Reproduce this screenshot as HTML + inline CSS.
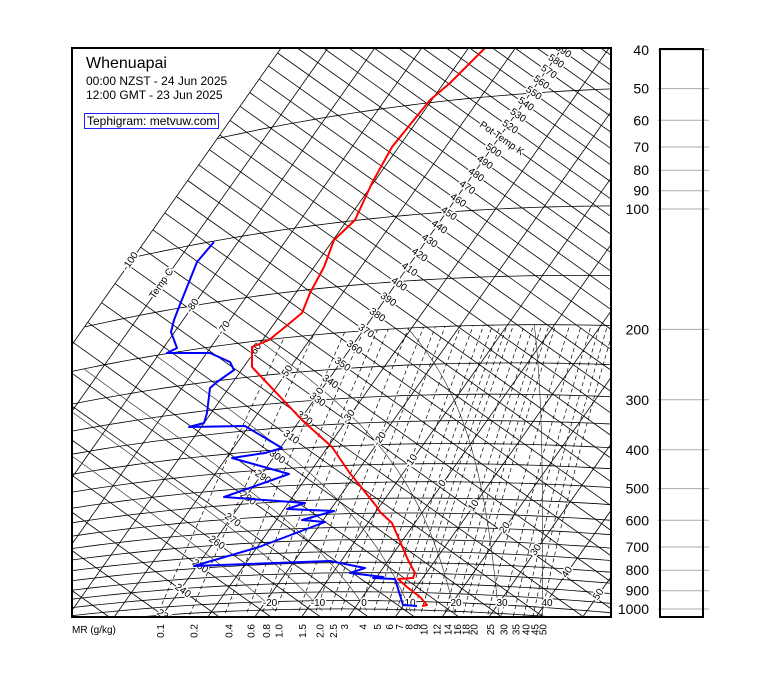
<!DOCTYPE html>
<html><head><meta charset="utf-8"><style>
html,body{margin:0;padding:0;background:#fff;width:760px;height:690px;overflow:hidden;}
svg{display:block;font-family:"Liberation Sans",sans-serif;overflow:hidden;}
.lb{font-size:10px;fill:#000;stroke:#fff;stroke-width:3px;paint-order:stroke;}
</style></head><body>
<svg id="s" width="760" height="690" viewBox="0 0 760 690" xmlns="http://www.w3.org/2000/svg">
<defs><clipPath id="cp"><rect x="72" y="48" width="539" height="569"/></clipPath></defs>
<g id="grid" clip-path="url(#cp)"></g>
<g id="labs" clip-path="url(#cp)"></g>
<g id="data" clip-path="url(#cp)" fill="none" stroke-width="2" stroke-linejoin="round">
<polyline stroke="#ff0000" points="485,48 450,83 430,100 392,147 372,183 355,220 334,240 324,267 310,293 302,313 285,327 269,340 252,347 252,367 302,420 332,447 349,472 353,477 377,507 380,512 392,523 408,560 415,573 413,578 398,579 407,587 420,597 427,605 422,606"/>
<polyline stroke="#0000ff" points="214,242 197,262 179,307 174,320 171,332 177,348 167,353 210,353 230,362 234,370 217,382 210,388 207,413 204,423 189,427 245,426 282,448 265,453 232,458 289,474 224,497 305,503 287,509 334,511 302,520 325,522 259,547 194,566 330,561 365,568 350,573 383,577 373,578 395,579 403,605 417,606"/>
</g>
<rect x="72" y="48" width="539" height="569" fill="none" stroke="#000" stroke-width="2"/>
<text x="86" y="68" font-size="16">Whenuapai</text>
<text x="86" y="85" font-size="12">00:00 NZST - 24 Jun 2025</text>
<text x="86" y="99" font-size="12">12:00 GMT - 23 Jun 2025</text>
<rect x="84.5" y="113.5" width="134" height="15" fill="#fff" stroke="#2020ff" stroke-width="1"/>
<text x="87" y="125" font-size="12">Tephigram: metvuw.com</text>
<text x="72" y="633" font-size="10">MR (g/kg)</text>
<g id="mr"></g>
<g id="right"></g>
<rect x="660" y="49" width="43" height="568" fill="none" stroke="#000" stroke-width="2"/>
</svg>
<script>
var NS="http://www.w3.org/2000/svg";
var a=3.12,b=423,c=-2013,d=2.22,e=-600,f=3966.6;
var X0=72,X1=611,Y0=48,Y1=617;
function XY(T,th){var L=Math.log(th);return [a*T+b*L+c,d*T+e*L+f];}
function theta(T,p){return (T+273.15)*Math.pow(1000/p,0.2857);}
function el(parent,tag,attrs,txt){var n=document.createElementNS(NS,tag);for(var k in attrs)n.setAttribute(k,attrs[k]);if(txt!==undefined)n.textContent=txt;document.getElementById(parent).appendChild(n);return n;}
function clipSeg(p,q){var t0=0,t1=1,dx=q[0]-p[0],dy=q[1]-p[1];
var P=[-dx,dx,-dy,dy],Q=[p[0]-X0,X1-p[0],p[1]-Y0,Y1-p[1]];
for(var i=0;i<4;i++){if(P[i]===0){if(Q[i]<0)return null;}else{var r=Q[i]/P[i];if(P[i]<0){if(r>t1)return null;if(r>t0)t0=r;}else{if(r<t0)return null;if(r<t1)t1=r;}}}
return [[p[0]+t0*dx,p[1]+t0*dy],[p[0]+t1*dx,p[1]+t1*dy]];}
function poly(parent,pts,attrs){var runs=[],cur=[];
for(var i=0;i<pts.length-1;i++){var s=clipSeg(pts[i],pts[i+1]);if(!s){if(cur.length){runs.push(cur);cur=[];}continue;}
if(!cur.length)cur.push(s[0]);cur.push(s[1]);
if(s[1][0]!==pts[i+1][0]||s[1][1]!==pts[i+1][1]){runs.push(cur);cur=[];}}
if(cur.length)runs.push(cur);
runs.forEach(function(r){if(r.length<2)return;var at={};for(var k in attrs)at[k]=attrs[k];at.points=r.map(function(p){return p[0].toFixed(1)+","+p[1].toFixed(1)}).join(" ");at.fill="none";el(parent,"polyline",at);});}
for(var T=-100;T<=60;T+=10){poly("grid",[XY(T,150),XY(T,1200)],{stroke:"#000","stroke-width":0.8});}
for(var th=200;th<=800;th+=10){poly("grid",[XY(-100,th),XY(90,th)],{stroke:"#000","stroke-width":0.8});}
var ps=[50,100,150];for(var p=200;p<=1050;p+=50)ps.push(p);
ps.forEach(function(p){var pts=[];for(var T=-100;T<=90;T+=2)pts.push(XY(T,theta(T,p)));poly("grid",pts,{stroke:"#000","stroke-width":0.8});});
function es(T){return 6.112*Math.exp(17.67*T/(T+243.5));}
function tdw(w,p){var ee=w*p/(622+w);var l=Math.log(ee/6.112);return 243.5*l/(17.67-l);}
var ws=[0.1,0.2,0.4,0.6,0.8,1.0,1.5,2.0,2.5,3,4,5,6,7,8,9,10,12,14,16,18,20,25,30,35,40,45,50];
ws.forEach(function(w){var pts=[];for(var p=1060;p>=200;p-=10){var T=tdw(w,p);pts.push(XY(T,theta(T,p)));}
poly("grid",pts,{stroke:"#000","stroke-width":0.7,"stroke-dasharray":"4,3"});
var T0=tdw(w,1000);var q=XY(T0,theta(T0,1000));var lab=(w<3)?w.toFixed(1):String(w);
el("mr","text",{x:(q[0]+3.5).toFixed(1),y:624,"font-size":"10","text-anchor":"end",transform:"rotate(-90 "+(q[0]+3.5).toFixed(1)+" 624)"},lab);});
function moist(T0){var Rd=287,Cp=1005,Lv=2.5e6,eps=0.622;function step(T,p,dp){var Tk=T+273.15;var e1=es(T);var rs=eps*e1/(p-e1);var g=(Rd*Tk+Lv*rs)/(p*(Cp+Lv*Lv*rs*eps/(Rd*Tk*Tk)));return T+g*dp;}
var T=T0,up=[];for(var p=1000;p>=200;p-=5){up.push(XY(T,theta(T,p)));T=step(T,p,-5);}
T=T0;var dn=[];for(var p=1000;p<=1060;p+=5){dn.unshift(XY(T,theta(T,p)));T=step(T,p,5);}
return dn.concat(up);}
[-20,-10,0,10,20,30,40].forEach(function(t){poly("grid",moist(t),{stroke:"#222","stroke-width":0.6});});
for(var T=-100;T<=50;T+=10){var q=XY(T,332);var txt=(T===-90)?"Temp C":String(T);
el("labs","text",{x:q[0].toFixed(1),y:q[1].toFixed(1),"class":"lb","text-anchor":"middle","dominant-baseline":"middle",transform:"rotate(-55 "+q[0].toFixed(1)+" "+q[1].toFixed(1)+")"},txt);}
for(var th=230;th<=590;th+=10){var q=XY(-39.3,th);var txt=(th===510)?"Pot Temp K":String(th);
el("labs","text",{x:q[0].toFixed(1),y:q[1].toFixed(1),"class":"lb","text-anchor":"middle","dominant-baseline":"middle",transform:"rotate(35 "+q[0].toFixed(1)+" "+q[1].toFixed(1)+")"},txt);}
[[-20,270],[-10,318],[0,364],[10,410],[20,456],[30,502],[40,547]].forEach(function(v){el("labs","text",{x:v[1],y:606,"class":"lb","font-size":"11","text-anchor":"middle"},String(v[0]));});
[40,50,60,70,80,90,100,200,300,400,500,600,700,800,900,1000].forEach(function(p){var y=609-400*Math.log10(1000/p);
el("right","line",{x1:658,x2:709,y1:y.toFixed(1),y2:y.toFixed(1),stroke:"#aaa","stroke-width":1});
el("right","text",{x:649,y:(y+5).toFixed(1),"font-size":"14","text-anchor":"end"},String(p));});
</script>
</body></html>
